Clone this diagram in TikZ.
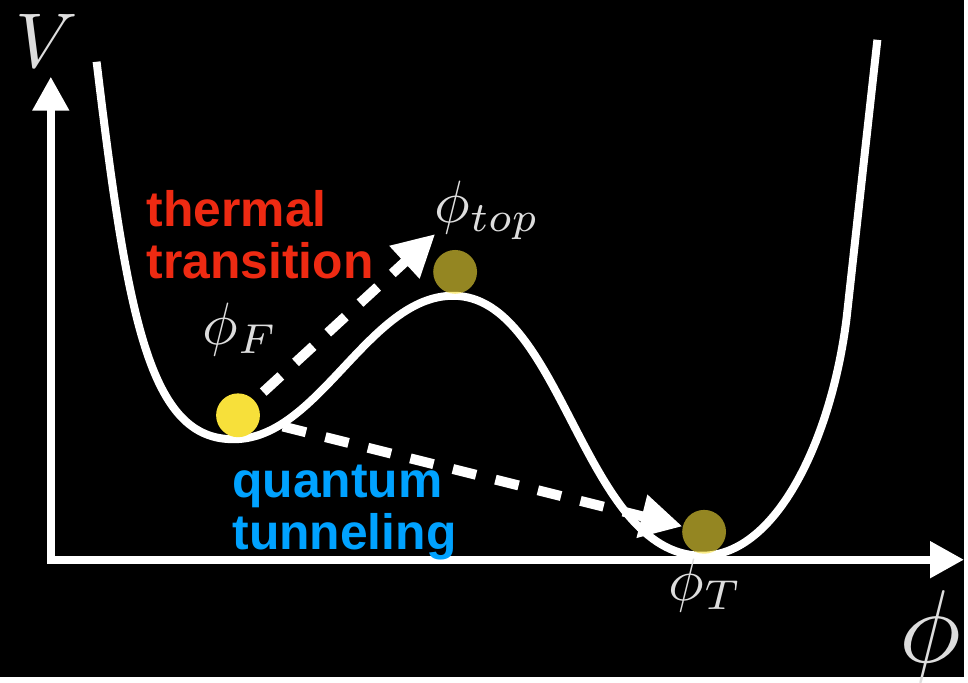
\documentclass[tikz,border=0pt]{standalone}
\usepackage{graphicx}
\usepackage{fontspec}
\newfontfamily\helv{Liberation Sans}
\usepackage{xcolor}
\definecolor{ThermRed}{HTML}{EE2A12}
\definecolor{QuantBlue}{HTML}{00A2FF}
\definecolor{BallYellow}{HTML}{F7E03A}
\definecolor{LabelGray}{HTML}{DDDDDD}
\usetikzlibrary{arrows.meta, positioning}
\newcommand{\bigmath}[2]{\scalebox{#1}{$#2$}}
\tikzset{
  axis/.style={-{Triangle[length=17pt, width=17.5pt]}, line width=4pt, color=white},
  pot/.style={line width=4pt, color=white},
  ball/.style={circle, minimum size=22pt, inner sep=0pt, fill=BallYellow},
  dArr/.style={-{Triangle[length=21pt, width=21pt]}, line width=5pt, color=white,
    dash pattern=on 12pt off 10pt},
  txt/.style={anchor=base west, inner sep=0pt, font=\helv\bfseries\fontsize{25}{30}\selectfont},
  lbl/.style={anchor=base west, inner sep=0pt, text=LabelGray},
}
\begin{document}
\begin{tikzpicture}[x=0.5pt, y=-0.5pt]

% background
\fill[black] (0,0) rectangle (968,680);

% axes
\coordinate (O) at (51,562);
\coordinate (Vtip) at (51,77);
\coordinate (phiTip) at (968,562);
\draw[axis, line cap=rect] (O) -- (Vtip);
\draw[axis, line cap=rect] (O) -- (phiTip);
\node[lbl] (Vlbl) at (15,68) {\bigmath{3.9}{V}};
\node[lbl] (philbl) at (903,665) {\bigmath{5.2}{\phi}};

% potential
\draw[pot] (97,62) .. controls (128,320) and (150,442) .. (235,441)
  .. controls (320,441) and (370,297) .. (455,297)
  .. controls (565,297) and (585,558) .. (705,558)
  .. controls (780,558) and (835,440) .. (850,320)
  .. controls (858,248) and (872,120) .. (881,40);

% balls
\node[ball] (phiF) at (239,417) {};
\node[ball, opacity=0.6] (phiTop) at (457,273) {};
\node[ball, opacity=0.6] (phiT) at (707,534) {};

% labels
\node[lbl] (lF) at (203,346) {\bigmath{3}{\phi_{F}}};
\node[lbl] (lTop) at (436,223) {\bigmath{3}{\phi_{top}}};
\node[lbl] (lT) at (671,603) {\bigmath{3}{\phi_{T}}};

% transitions
\coordinate (thermTip) at (437,235);
\draw[dArr, shorten <=6pt] (phiF) -- (thermTip);
\draw[dArr, shorten <=12pt] (phiF) -- (phiT);

\node[txt, text=ThermRed] (therm1) at (147,227) {thermal};
\node[txt, text=ThermRed] (therm2) at (147,280) {transition};
\node[txt, text=QuantBlue] (quant1) at (233,500) {quantum};
\node[txt, text=QuantBlue] (quant2) at (233,552) {tunneling};

\end{tikzpicture}
\end{document}
